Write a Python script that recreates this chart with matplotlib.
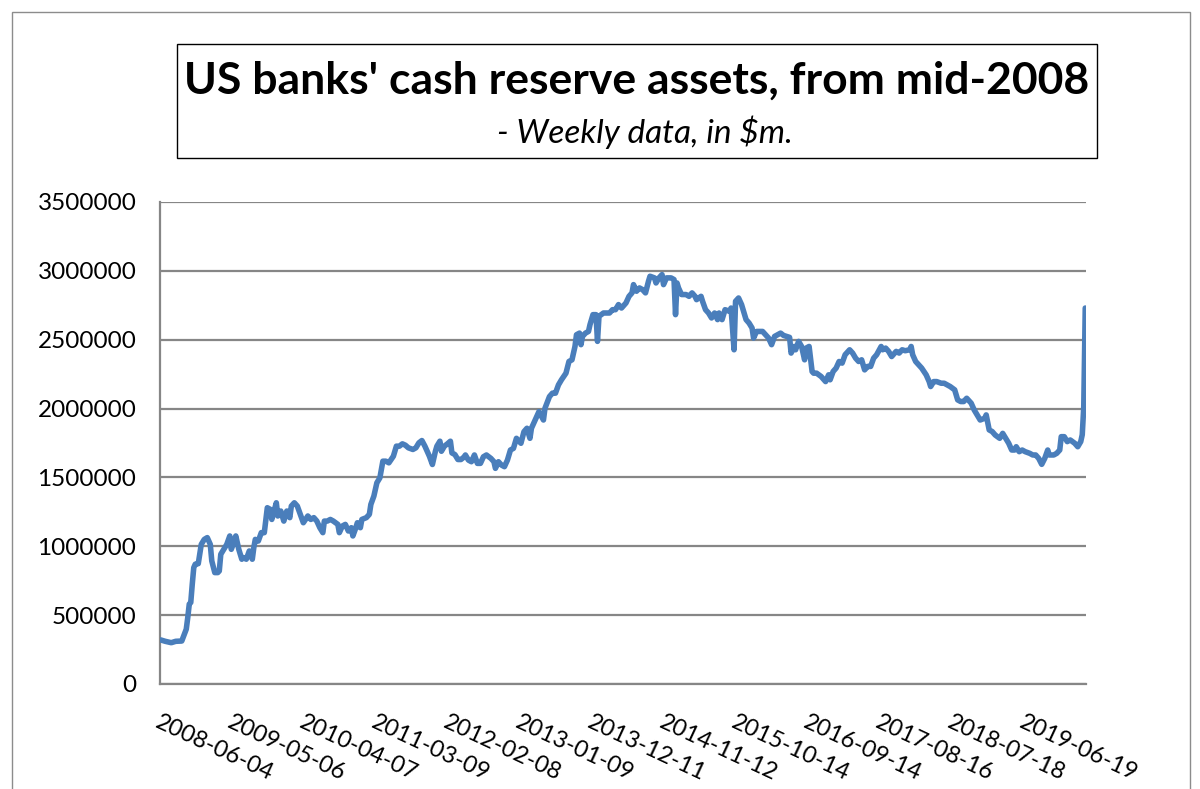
import datetime as dt
import numpy as np
import matplotlib
matplotlib.use('Agg')
import matplotlib.pyplot as plt
from matplotlib.patches import Rectangle

# -- plotting --
plt.rcParams['font.family'] = ['Lato', 'DejaVu Sans']

# -- data: weeks since 2008-06-04 and US banks' cash assets [$m] --
start_date = '2008-06-04'
weeks = [
    0, 3, 7, 10, 14, 17, 18, 19, 20, 21, 22, 23, 25, 27, 29, 31, 33, 34, 36, 38,
    39, 40, 42, 44, 46, 47, 49, 50, 52, 54, 55, 57, 59, 61, 62, 63, 65, 67, 69, 71,
    73, 74, 77, 78, 80, 82, 84, 86, 87, 89, 91, 93, 95, 98, 100, 102, 104, 106, 108, 109,
    111, 113, 115, 118, 119, 121, 123, 125, 127, 128, 130, 131, 133, 134, 137, 139, 140, 142, 144, 146,
    148, 150, 152, 155, 157, 159, 161, 163, 165, 168, 170, 172, 174, 176, 178, 179, 181, 183, 184, 186,
    187, 189, 191, 193, 194, 196, 198, 200, 202, 203, 205, 207, 209, 211, 213, 215, 217, 220, 222, 223,
    225, 227, 229, 231, 233, 235, 237, 240, 242, 244, 246, 247, 250, 252, 255, 256, 259, 261, 263, 265,
    267, 270, 272, 274, 276, 277, 279, 280, 281, 283, 285, 286, 288, 290, 291, 292, 295, 297, 299, 301,
    303, 305, 307, 310, 312, 314, 315, 317, 319, 321, 323, 325, 326, 329, 330, 332, 334, 335, 337, 340,
    342, 343, 344, 345, 347, 350, 352, 354, 356, 357, 360, 361, 363, 365, 367, 369, 371, 372, 374, 376,
    379, 380, 382, 383, 385, 387, 390, 392, 394, 395, 397, 399, 401, 403, 405, 407, 409, 411, 413, 415,
    419, 420, 422, 423, 425, 427, 429, 430, 432, 434, 435, 437, 440, 442, 443, 445, 446, 448, 450, 452,
    454, 456, 459, 461, 463, 465, 467, 469, 471, 473, 475, 477, 480, 481, 483, 485, 487, 490, 492, 494,
    496, 499, 500, 501, 503, 505, 507, 510, 512, 513, 515, 517, 520, 522, 524, 526, 529, 531, 533, 535,
    537, 540, 542, 544, 546, 549, 550, 552, 554, 556, 559, 561, 563, 565, 567, 569, 570, 572, 574, 576,
    579, 581, 583, 585, 587, 589, 591, 592, 595, 597, 599, 600, 602, 604, 606, 609, 611, 613, 614, 615,
    616]
cash = [
    320000, 310000, 300000, 310000, 312000, 398000, 483000, 580000, 592000, 725000,
    845000, 870000, 874000, 1014000, 1050000, 1063000, 1014000, 894000, 809000, 809000,
    821000, 942000, 978000, 1014000, 1075000, 978000, 1038000, 1075000, 978000, 906000,
    918000, 906000, 966000, 906000, 990000, 1050000, 1038000, 1099000, 1099000, 1280000,
    1268000, 1195000, 1316000, 1220000, 1256000, 1183000, 1256000, 1208000, 1292000, 1316000,
    1292000, 1232000, 1171000, 1220000, 1195000, 1208000, 1183000, 1135000, 1099000, 1183000,
    1183000, 1195000, 1183000, 1159000, 1099000, 1147000, 1159000, 1111000, 1135000, 1075000,
    1135000, 1171000, 1135000, 1195000, 1208000, 1232000, 1304000, 1364000, 1461000, 1497000,
    1618000, 1618000, 1606000, 1654000, 1727000, 1727000, 1744000, 1734000, 1715000, 1703000,
    1715000, 1751000, 1768000, 1727000, 1678000, 1654000, 1594000, 1690000, 1727000, 1763000,
    1690000, 1727000, 1744000, 1763000, 1678000, 1666000, 1630000, 1630000, 1647000, 1663000,
    1626000, 1614000, 1663000, 1602000, 1602000, 1650000, 1663000, 1638000, 1614000, 1566000,
    1614000, 1590000, 1578000, 1626000, 1699000, 1711000, 1784000, 1748000, 1832000, 1857000,
    1784000, 1857000, 1930000, 1978000, 1917000, 2002000, 2087000, 2112000, 2112000, 2172000,
    2209000, 2257000, 2342000, 2354000, 2451000, 2536000, 2548000, 2464000, 2524000, 2548000,
    2560000, 2609000, 2682000, 2682000, 2488000, 2670000, 2694000, 2694000, 2694000, 2718000,
    2718000, 2755000, 2730000, 2767000, 2815000, 2840000, 2900000, 2852000, 2876000, 2864000,
    2840000, 2925000, 2961000, 2949000, 2912000, 2949000, 2973000, 2900000, 2949000, 2949000,
    2937000, 2682000, 2912000, 2876000, 2828000, 2828000, 2815000, 2840000, 2815000, 2791000,
    2815000, 2779000, 2718000, 2694000, 2658000, 2694000, 2646000, 2694000, 2646000, 2718000,
    2706000, 2730000, 2427000, 2779000, 2803000, 2755000, 2646000, 2621000, 2585000, 2512000,
    2560000, 2560000, 2560000, 2536000, 2512000, 2464000, 2524000, 2536000, 2548000, 2531000,
    2517000, 2403000, 2451000, 2427000, 2488000, 2451000, 2354000, 2439000, 2451000, 2269000,
    2257000, 2257000, 2233000, 2209000, 2196000, 2245000, 2209000, 2269000, 2294000, 2342000,
    2330000, 2391000, 2427000, 2403000, 2366000, 2342000, 2354000, 2281000, 2306000, 2306000,
    2366000, 2391000, 2451000, 2427000, 2439000, 2415000, 2378000, 2415000, 2403000, 2427000,
    2420000, 2427000, 2451000, 2391000, 2342000, 2318000, 2294000, 2245000, 2196000, 2160000,
    2196000, 2196000, 2184000, 2184000, 2172000, 2160000, 2136000, 2063000, 2051000, 2051000,
    2075000, 2039000, 1990000, 1954000, 1917000, 1930000, 1954000, 1845000, 1833000, 1808000,
    1784000, 1820000, 1784000, 1748000, 1699000, 1699000, 1723000, 1687000, 1699000, 1687000,
    1675000, 1663000, 1663000, 1638000, 1595000, 1638000, 1699000, 1663000, 1663000, 1675000,
    1699000, 1796000, 1796000, 1760000, 1772000, 1748000, 1723000, 1760000, 1810000, 2010000,
    2730000]
n_weeks = 617
tick_labels = ['2008-06-04', '2009-05-06', '2010-04-07', '2011-03-09', '2012-02-08',
               '2013-01-09', '2013-12-11', '2014-11-12', '2015-10-14', '2016-09-14',
               '2017-08-16', '2018-07-18', '2019-06-19']
yticks = [0, 500000, 1000000, 1500000, 2000000, 2500000, 3000000, 3500000]

title = "US banks' cash reserve assets, from mid-2008"
subtitle = "- Weekly data, in $m."

W, H = 1200, 789
fig = plt.figure(figsize=(W/100., H/100.), dpi=100)
fig.patch.set_facecolor('white')

# outer chart frame
fig.add_artist(Rectangle((12./W, -0.05), 1178./W, 1 - 12./H + 0.05, transform=fig.transFigure,
                         fill=False, edgecolor='#8c8c8c', linewidth=1.0))

# title box
fig.add_artist(Rectangle((177./W, 1 - 158./H), 920./W, 114./H, transform=fig.transFigure,
                         fill=False, edgecolor='black', linewidth=1.0))
fig.text(637./W, 1 - 81./H, title, ha='center', va='center', fontsize=32, fontweight='bold')
fig.text(645./W, 1 - 132./H, subtitle.replace('$', r'\$'), ha='center', va='center',
         fontsize=24, style='italic')

ax = fig.add_axes([160./W, 1 - 684./H, 926./W, 482./H])
ax.plot(weeks, cash, color='#4a7ebb', lw=4.0, solid_joinstyle='round', solid_capstyle='round',
        zorder=3)

# tick positions from the label dates
t0 = dt.date.fromisoformat(start_date)
xticks = [(dt.date.fromisoformat(t) - t0).days / 7. for t in tick_labels]
ax.set_xticks(xticks)
ax.set_xticklabels(tick_labels, rotation=-25, ha='left', va='top', rotation_mode='anchor',
                   fontsize=17)
ax.set_xlim(-0.5, n_weeks - 0.5)
ax.set_ylim(0, 3500000)
ax.set_yticks(yticks)
ax.set_yticklabels([str(v) for v in yticks], fontsize=17.5)
ax.tick_params(axis='x', length=0, pad=20)
ax.tick_params(axis='y', length=0, pad=17)
ax.grid(axis='y', color='#868686', lw=1.6, zorder=0)
for side in ['top', 'right']:
    ax.spines[side].set_visible(False)
for side in ['left', 'bottom']:
    ax.spines[side].set_color('#868686')
    ax.spines[side].set_linewidth(1.6)

fig.savefig('out.png', dpi=100)
plt.close()
